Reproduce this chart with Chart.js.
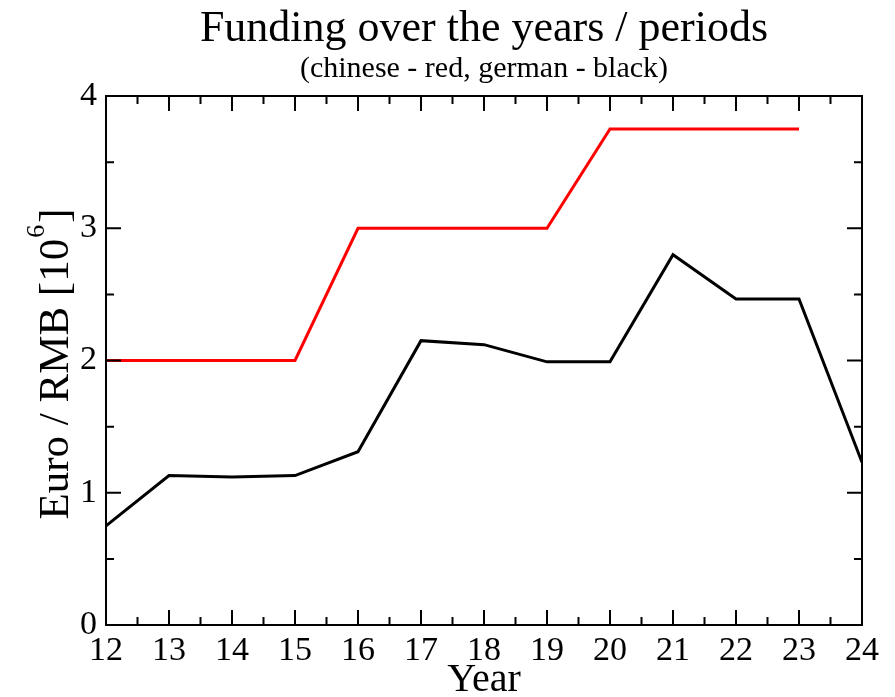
<!DOCTYPE html>
<html>
<head>
<meta charset="utf-8">
<script src="https://cdn.jsdelivr.net/npm/chart.js@4.4.1/dist/chart.umd.min.js"></script>
<style>
  html, body { margin: 0; padding: 0; background: #fff; }
  #wrap { width: 895px; height: 697px; }
</style>
</head>
<body>
<div id="wrap"><canvas id="myChart" width="895" height="697"></canvas></div>
<script>
// years (x axis, 2012..2024 written as 12..24)
const years = [12, 13, 14, 15, 16, 17, 18, 19, 20, 21, 22, 23, 24];
// chinese funding (red), no value for 24
const chinese = [2, 2, 2, 2, 3, 3, 3, 3, 3.75, 3.75, 3.75, 3.75];
// german funding (black)
const german = [0.75, 1.13, 1.12, 1.13, 1.31, 2.15, 2.12, 1.99, 1.99, 2.80, 2.465, 2.465, 1.23];
const yTicks = [0, 1, 2, 3, 4];
const xMinor = [12.5, 13.5, 14.5, 15.5, 16.5, 17.5, 18.5, 19.5, 20.5, 21.5, 22.5, 23.5];
const yMinor = [0.5, 1.5, 2.5, 3.5];

const serif = "'Liberation Serif', 'DejaVu Serif', serif";

// grace-style frame with inward ticks on all four sides
const frameTicks = {
   id: "frameTicks",
   afterDraw(chart) {
      const { ctx, chartArea: a, scales } = chart;
      const x = scales.x, y = scales.y;
      ctx.save();
      ctx.strokeStyle = "#000";
      ctx.lineWidth = 2;
      ctx.strokeRect(a.left, a.top, a.right - a.left, a.bottom - a.top);
      const major = 15, minor = 8;
      ctx.beginPath();
      years.forEach((v) => {
         const px = x.getPixelForValue(v);
         ctx.moveTo(px, a.bottom); ctx.lineTo(px, a.bottom - major);
         ctx.moveTo(px, a.top); ctx.lineTo(px, a.top + major);
      });
      xMinor.forEach((v) => {
         const px = x.getPixelForValue(v);
         ctx.moveTo(px, a.bottom); ctx.lineTo(px, a.bottom - minor);
         ctx.moveTo(px, a.top); ctx.lineTo(px, a.top + minor);
      });
      yTicks.forEach((v) => {
         const py = y.getPixelForValue(v);
         ctx.moveTo(a.left, py); ctx.lineTo(a.left + major, py);
         ctx.moveTo(a.right, py); ctx.lineTo(a.right - major, py);
      });
      yMinor.forEach((v) => {
         const py = y.getPixelForValue(v);
         ctx.moveTo(a.left, py); ctx.lineTo(a.left + minor, py);
         ctx.moveTo(a.right, py); ctx.lineTo(a.right - minor, py);
      });
      ctx.stroke();
      ctx.restore();
   },
};

// y axis title with superscript exponent
const yTitle = {
   id: "yTitle",
   afterDraw(chart) {
      const { ctx, chartArea: a } = chart;
      const main = "Euro / RMB [10", sup = "6", end = "]";
      ctx.save();
      ctx.fillStyle = "#000";
      ctx.textBaseline = "alphabetic";
      ctx.font = "43px " + serif;
      const w1 = ctx.measureText(main).width;
      const w3 = ctx.measureText(end).width;
      ctx.font = "26px " + serif;
      const w2 = ctx.measureText(sup).width + 3;
      const total = w1 + w2 + w3;
      ctx.translate(68, 364);
      ctx.rotate(-Math.PI / 2);
      let sx = -total / 2;
      ctx.font = "43px " + serif;
      ctx.fillText(main, sx, 0);
      ctx.font = "26px " + serif;
      ctx.fillText(sup, sx + w1 + 1, -24);
      ctx.font = "43px " + serif;
      ctx.fillText(end, sx + w1 + w2, 0);
      ctx.restore();
   },
};

const ctx = document.getElementById("myChart").getContext("2d");
const myChart = new Chart(ctx, {
   type: "line",
   data: {
      datasets: [
         {
            label: "chinese",
            data: chinese.map((v, i) => ({ x: years[i], y: v })),
            borderColor: "#ff0000",
            borderWidth: 3,
            pointRadius: 0,
            tension: 0,
         },
         {
            label: "german",
            data: german.map((v, i) => ({ x: years[i], y: v })),
            borderColor: "#000000",
            borderWidth: 3,
            pointRadius: 0,
            tension: 0,
         },
      ],
   },
   options: {
      responsive: false,
      animation: false,
      devicePixelRatio: 1,
      layout: { padding: { left: 0, right: 33, top: 0, bottom: 0 } },
      plugins: {
         legend: { display: false },
         tooltip: { enabled: false },
         title: {
            display: true,
            fullSize: false,
            text: "Funding over the years / periods",
            color: "#000",
            font: { family: serif, size: 44, weight: "normal", lineHeight: 1.1 },
            padding: { top: 5, bottom: 0 },
         },
         subtitle: {
            display: true,
            fullSize: false,
            text: "(chinese - red, german - black)",
            color: "#000",
            font: { family: serif, size: 30, weight: "normal", lineHeight: 1.0 },
            padding: { top: 1, bottom: 11.6 },
         },
      },
      scales: {
         x: {
            type: "linear",
            min: 12,
            max: 24,
            grid: { display: false, drawTicks: false },
            border: { display: false },
            ticks: {
               stepSize: 1,
               autoSkip: false,
               maxRotation: 0,
               color: "#000",
               padding: 6,
               font: { family: serif, size: 34 },
            },
            title: {
               display: true,
               text: "Year",
               color: "#000",
               font: { family: serif, size: 40, lineHeight: 0.85 },
               padding: 0,
            },
            afterFit(scale) { scale.height = 72; },
         },
         y: {
            min: 0,
            max: 4,
            grid: { display: false, drawTicks: false },
            border: { display: false },
            ticks: {
               stepSize: 1,
               color: "#000",
               padding: 9,
               font: { family: serif, size: 34 },
            },
            afterFit(scale) { scale.width = 106; },
         },
      },
   },
   plugins: [frameTicks, yTitle],
});
</script>
</body>
</html>
